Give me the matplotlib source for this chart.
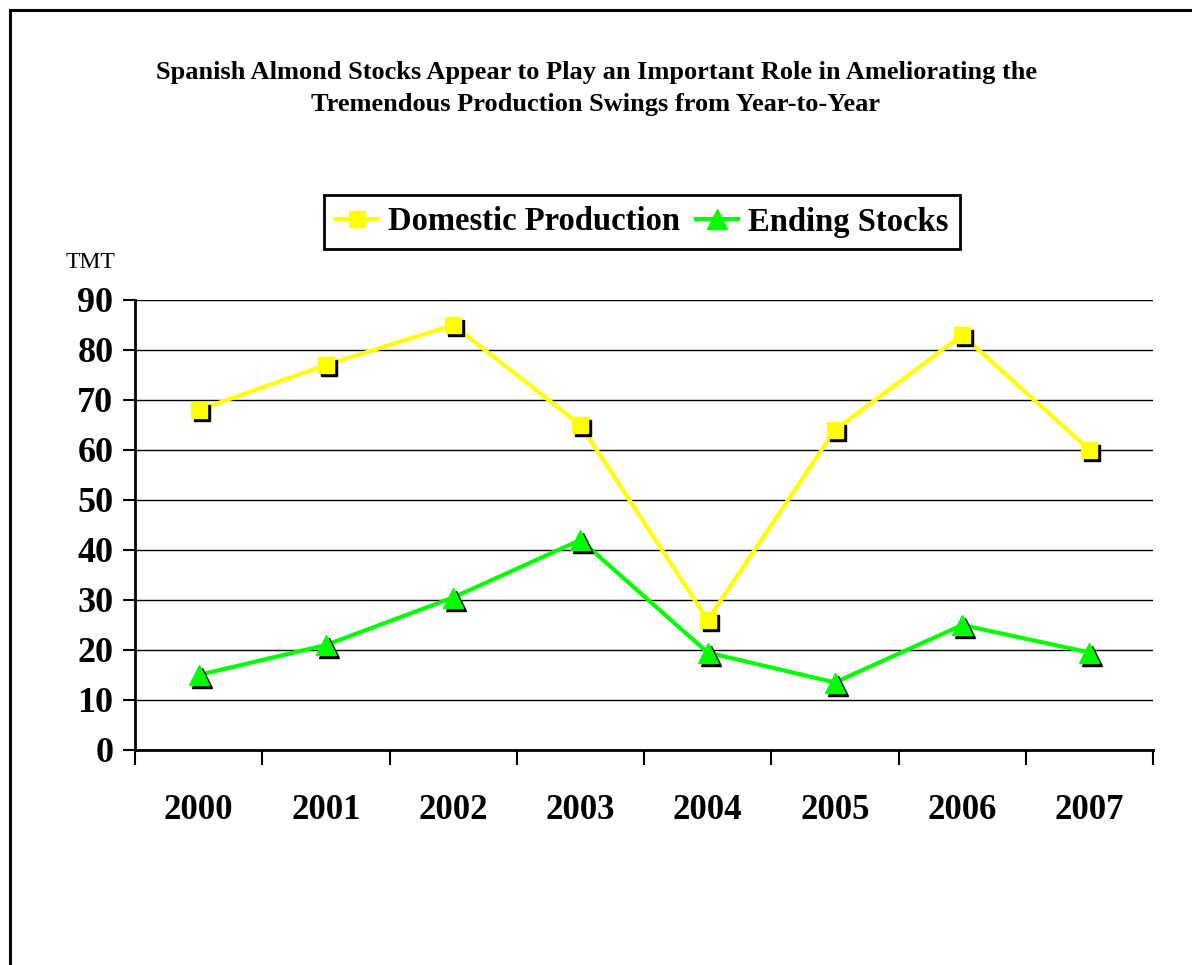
import matplotlib
matplotlib.use("Agg")
import matplotlib.pyplot as plt
from matplotlib.lines import Line2D
from matplotlib.transforms import offset_copy

years = ["2000", "2001", "2002", "2003", "2004", "2005", "2006", "2007"]
produccion = [68, 77, 85, 65, 26, 64, 83, 60]
existencias = [15, 21, 30.5, 42, 19.5, 13.5, 25, 19.5]

W, H = 1192, 965
fig = plt.figure(figsize=(W / 100, H / 100), dpi=100)
plt.rcParams['font.family'] = ['Liberation Serif', 'DejaVu Serif']

# marco exterior (solo se ven izquierda y arriba)
fig.add_artist(Line2D([10 / W, 10 / W], [0, 1 - 10 / H], color='black', lw=2.2,
                      transform=fig.transFigure, solid_capstyle='projecting'))
fig.add_artist(Line2D([10 / W, 1], [1 - 10 / H, 1 - 10 / H], color='black', lw=2.2,
                      transform=fig.transFigure, solid_capstyle='projecting'))

ax = fig.add_axes([135 / W, (H - 750) / H, (1153 - 135) / W, 450 / H])

x = [i + 0.5 for i in range(len(years))]

sombra = offset_copy(ax.transData, fig=fig, x=3, y=-3, units='dots')

ax.plot(x, produccion, color='#ffff00', lw=3, zorder=3)
ax.plot(x, produccion, 's', color='black', ms=11.5, transform=sombra, zorder=4)
ax.plot(x, produccion, 's', color='#ffff00', ms=11.5, zorder=5)

ax.plot(x, existencias, color='#00ff00', lw=3, zorder=3)
ax.plot(x, existencias, '^', color='black', ms=14, transform=sombra, zorder=4)
ax.plot(x, existencias, '^', color='#00ff00', ms=14, zorder=5)

ax.set_xlim(0, len(years))
ax.set_ylim(0, 90)
ax.set_yticks(range(0, 91, 10))
ax.set_xticks(range(0, len(years) + 1))
ax.set_xticklabels([])
ax.set_xticks(x, minor=True)
ax.set_xticklabels(years, minor=True, fontsize=25, fontweight='bold')
ax.tick_params(axis='x', which='minor', length=0, pad=32)
ax.tick_params(axis='x', which='major', direction='out', length=10.5, width=1.5)
ax.tick_params(axis='y', direction='out', length=8.5, width=1.5, labelsize=26, pad=7)
for lab in ax.get_yticklabels():
    lab.set_fontweight('bold')

ax.yaxis.grid(True, color='black', lw=1)
ax.set_axisbelow(True)
for s in ['top', 'right']:
    ax.spines[s].set_visible(False)
ax.spines['left'].set_linewidth(2)
ax.spines['bottom'].set_linewidth(2)

fig.text(66 / W, 1 - 263 / H, "TMT", fontsize=17, va='center', ha='left')

fig.text(596 / W, 1 - 72 / H,
         "Spanish Almond Stocks Appear to Play an Important Role in Ameliorating the",
         fontsize=19, fontweight='bold', ha='center', va='center')
fig.text(596 / W, 1 - 104 / H, "Tremendous Production Swings from Year-to-Year",
         fontsize=19, fontweight='bold', ha='center', va='center')

h1 = Line2D([], [], color='#ffff00', lw=3, marker='s', ms=11.5)
h2 = Line2D([], [], color='#00ff00', lw=3, marker='^', ms=14)
leg = fig.legend([h1, h2], ["Domestic Production", "Ending Stocks"],
                 loc='center', bbox_to_anchor=(642 / W, 1 - 222 / H), ncol=2,
                 frameon=True, fancybox=False, edgecolor='black', framealpha=1,
                 prop={'size': 23.5, 'weight': 'bold'}, handlelength=1.3,
                 handletextpad=0.3, columnspacing=0.5, borderpad=0.35)
leg.get_frame().set_linewidth(2)

fig.savefig("out.png", dpi=100, facecolor='white')
